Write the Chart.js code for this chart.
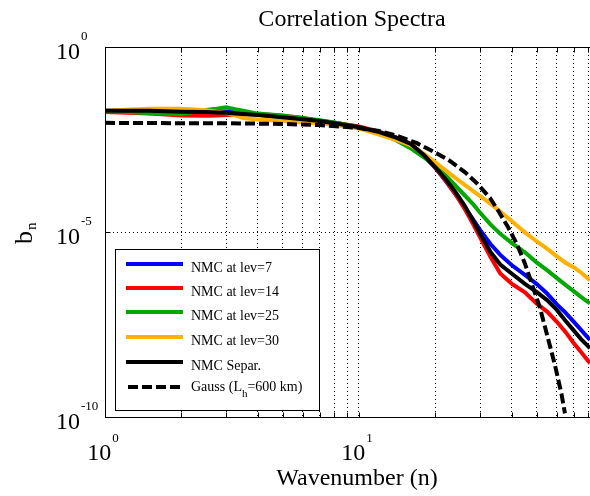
<!DOCTYPE html>
<html>
<head>
<meta charset="utf-8">
<script src="https://cdn.jsdelivr.net/npm/chart.js@4"></script>
<style>
  html, body { margin: 0; padding: 0; background: #fff; }
  #wrap { width: 590px; height: 496px; }
</style>
</head>
<body>
<div id="wrap"><canvas id="spectra" width="590" height="496"></canvas></div>
<script>
// wavenumbers where the NMC curves were read
var nmcN = [1, 1.5, 2, 2.5, 2.75, 3, 3.25, 3.5, 4, 5, 6, 7, 8, 10, 12, 14, 16, 18, 20, 22, 24, 26, 28, 30, 33, 36, 40, 45, 50, 55, 60, 65, 70, 75, 81.2];

// values as log10(b_n)
var lev7  = [-1.72, -1.72, -1.74, -1.74, -1.74, -1.74, -1.76, -1.78, -1.83, -1.89, -1.94, -1.99, -2.05, -2.16, -2.30, -2.45, -2.64, -2.94, -3.27, -3.63, -3.98, -4.32, -4.64, -4.95, -5.33, -5.62, -5.90, -6.16, -6.40, -6.66, -6.95, -7.18, -7.42, -7.65, -7.92];
var lev14 = [-1.76, -1.80, -1.85, -1.86, -1.85, -1.84, -1.83, -1.82, -1.81, -1.86, -1.92, -2.00, -2.05, -2.15, -2.29, -2.44, -2.62, -2.92, -3.26, -3.62, -3.98, -4.36, -4.76, -5.15, -5.68, -6.12, -6.40, -6.63, -6.93, -7.15, -7.42, -7.70, -8.00, -8.25, -8.55];
var lev25 = [-1.72, -1.79, -1.82, -1.70, -1.67, -1.63, -1.68, -1.72, -1.80, -1.85, -1.92, -1.98, -2.04, -2.17, -2.33, -2.52, -2.74, -2.98, -3.22, -3.48, -3.75, -4.00, -4.23, -4.48, -4.80, -5.05, -5.30, -5.55, -5.82, -6.03, -6.24, -6.43, -6.60, -6.76, -6.93];
var lev30 = [-1.72, -1.67, -1.67, -1.71, -1.75, -1.78, -1.85, -1.92, -1.96, -2.00, -2.04, -2.07, -2.10, -2.20, -2.37, -2.51, -2.66, -2.88, -3.12, -3.34, -3.54, -3.72, -3.88, -4.03, -4.24, -4.45, -4.71, -5.01, -5.25, -5.45, -5.65, -5.83, -5.95, -6.10, -6.30];
var separ = [-1.72, -1.72, -1.75, -1.76, -1.77, -1.78, -1.80, -1.81, -1.84, -1.90, -1.95, -2.00, -2.06, -2.17, -2.30, -2.45, -2.62, -2.92, -3.25, -3.58, -3.92, -4.28, -4.66, -5.05, -5.55, -5.88, -6.13, -6.40, -6.62, -6.84, -7.10, -7.40, -7.66, -7.90, -8.14];

// gaussian reference curve
var gaussN   = [1, 2, 3, 5, 7, 10, 12, 14, 16.9, 20.2, 22.8, 26.1, 29.1, 32.8, 35.3, 38.7, 41.8, 45, 47.1, 51.6, 55.6, 59.1, 62.8, 64.7];
var gaussExp = [-2.05, -2.06, -2.06, -2.08, -2.11, -2.19, -2.27, -2.39, -2.60, -2.87, -3.08, -3.38, -3.68, -4.08, -4.42, -4.88, -5.32, -5.85, -6.25, -7.05, -7.90, -8.60, -9.40, -9.90];

// grid / tick positions
var xGrid = [1, 2, 3, 4, 5, 6, 7, 8, 9, 10, 20, 30, 40, 50, 60, 70, 80];
var xLabels = [1, 10];
var yGrid = [1e-10, 1e-5, 1];
var yLabels = [1, 1e-5, 1e-10];

var serif = '"Liberation Serif", "Times New Roman", serif';

function toPoints(ns, exps) {
    return ns.map(function (n, i) {
        return { x: n, y: Math.pow(10, exps[i]) };
    });
}

function series(label, ns, exps, color, order, dash) {
    return {
        label: label,
        data: toPoints(ns, exps),
        borderColor: color,
        backgroundColor: color,
        borderWidth: 4,
        borderDash: dash || [],
        pointRadius: 0,
        tension: 0,
        fill: false,
        order: order
    };
}

// draws "10" with a raised exponent, starting at x
function drawPower(ctx, exp, x, y, dy) {
    ctx.font = '24px ' + serif;
    ctx.fillText('10', x, y);
    var w = ctx.measureText('10').width;
    ctx.font = '13px ' + serif;
    ctx.fillText(exp, x + w + 1, y - dy);
}

function powerWidth(ctx, exp) {
    ctx.font = '24px ' + serif;
    var w = ctx.measureText('10').width;
    ctx.font = '13px ' + serif;
    return w + 1 + ctx.measureText(exp).width;
}

var decorations = {
    id: 'decorations',
    afterDatasetsDraw: function (chart) {
        var ctx = chart.ctx;
        var a = chart.chartArea;
        var xs = chart.scales.x, ys = chart.scales.y;
        var L = Math.round(a.left) + 0.5, T = Math.round(a.top) + 0.5, B = Math.round(a.bottom) + 0.5;

        ctx.save();
        ctx.setLineDash([]);
        ctx.strokeStyle = '#000';
        ctx.lineWidth = 1;

        // axes box (right side falls outside the picture)
        ctx.beginPath();
        ctx.moveTo(a.right + 10, T);
        ctx.lineTo(L, T);
        ctx.lineTo(L, B);
        ctx.lineTo(a.right + 10, B);
        ctx.stroke();

        // tick marks pointing inwards
        ctx.beginPath();
        xGrid.forEach(function (v) {
            var px = Math.round(xs.getPixelForValue(v)) + 0.5;
            ctx.moveTo(px, B); ctx.lineTo(px, B - 5);
            ctx.moveTo(px, T); ctx.lineTo(px, T + 5);
        });
        var py = Math.round(ys.getPixelForValue(1e-5)) + 0.5;
        ctx.moveTo(L, py); ctx.lineTo(L + 5, py);
        ctx.stroke();

        ctx.fillStyle = '#000';
        ctx.textBaseline = 'alphabetic';
        ctx.textAlign = 'left';

        // x tick labels
        xLabels.forEach(function (v) {
            var exp = String(Math.round(Math.log10(v)));
            var px = xs.getPixelForValue(v);
            var w = powerWidth(ctx, exp);
            drawPower(ctx, exp, px - 2 - w / 2, 460, 18);
        });

        // y tick labels
        yLabels.forEach(function (v) {
            var exp = String(Math.round(Math.log10(v)));
            var py = ys.getPixelForValue(v);
            ctx.font = '24px ' + serif;
            var w = ctx.measureText('10').width;
            drawPower(ctx, exp, 80 - w, py + 12, 19);
        });

        // title and axis labels
        ctx.textAlign = 'center';
        ctx.font = '24px ' + serif;
        ctx.fillText('Correlation Spectra', 352, 26);
        ctx.fillText('Wavenumber (n)', 357, 485);

        ctx.save();
        ctx.translate(32, 244);
        ctx.rotate(-Math.PI / 2);
        ctx.textAlign = 'left';
        ctx.font = '26px ' + serif;
        ctx.fillText('b', 0, 0);
        var bw = ctx.measureText('b').width;
        ctx.font = '15px ' + serif;
        ctx.fillText('n', bw + 1, 4);
        ctx.restore();

        // legend
        var box = { x: 115.5, y: 249.5, w: 204, h: 161 };
        ctx.fillStyle = '#fff';
        ctx.fillRect(box.x, box.y, box.w, box.h);
        ctx.strokeStyle = '#000';
        ctx.lineWidth = 1;
        ctx.strokeRect(box.x, box.y, box.w, box.h);

        var rows = [264, 288, 312, 337, 362, 387];
        var sets = chart.data.datasets;
        ctx.textAlign = 'left';
        sets.forEach(function (ds, i) {
            var y = rows[i];
            ctx.beginPath();
            ctx.strokeStyle = ds.borderColor;
            ctx.lineWidth = 4;
            if (ds.borderDash.length) {
                ctx.setLineDash([10, 4]);
                ctx.moveTo(128, y); ctx.lineTo(183, y);
            } else {
                ctx.setLineDash([]);
                ctx.moveTo(126, y); ctx.lineTo(183, y);
            }
            ctx.stroke();
            ctx.setLineDash([]);

            ctx.fillStyle = '#000';
            var base = ds.borderDash.length ? y + 4 : y + 8;
            var parts = ds.label.split('_');
            ctx.font = '14px ' + serif;
            if (parts.length === 1) {
                ctx.fillText(ds.label, 191, base);
            } else {
                ctx.fillText(parts[0], 191, base);
                var x = 191 + ctx.measureText(parts[0]).width;
                ctx.font = '11px ' + serif;
                ctx.fillText(parts[1].charAt(0), x, base + 6);
                x += ctx.measureText(parts[1].charAt(0)).width;
                ctx.font = '14px ' + serif;
                ctx.fillText(parts[1].slice(1), x, base);
            }
        });
        ctx.restore();
    }
};

var canvas = document.getElementById('spectra');

var chart = new Chart(canvas, {
    type: 'line',
    data: {
        datasets: [
            series('NMC at lev=7', nmcN, lev7, '#0000ff', 5),
            series('NMC at lev=14', nmcN, lev14, '#ff0000', 4),
            series('NMC at lev=25', nmcN, lev25, '#00a800', 3),
            series('NMC at lev=30', nmcN, lev30, '#ffb000', 2),
            series('NMC Separ.', nmcN, separ, '#000000', 1),
            series('Gauss (L_h=600 km)', gaussN, gaussExp, '#000000', 0, [10, 4])
        ]
    },
    options: {
        responsive: false,
        animation: false,
        layout: {
            padding: { left: 105, right: 0, top: 47, bottom: 79 }
        },
        plugins: {
            legend: { display: false },
            title: { display: false },
            tooltip: { enabled: false }
        },
        scales: {
            x: {
                type: 'logarithmic',
                min: 1,
                max: 81.2,
                ticks: { display: false },
                grid: { color: '#000', lineWidth: 1, drawTicks: false },
                border: { display: false, dash: [1, 3] },
                afterBuildTicks: function (scale) {
                    scale.ticks = xGrid.map(function (v) { return { value: v }; });
                }
            },
            y: {
                type: 'logarithmic',
                min: 1e-10,
                max: 1,
                ticks: { display: false },
                grid: { color: '#000', lineWidth: 1, drawTicks: false },
                border: { display: false, dash: [1, 3] },
                afterBuildTicks: function (scale) {
                    scale.ticks = yGrid.map(function (v) { return { value: v }; });
                }
            }
        }
    },
    plugins: [decorations]
});
</script>
</body>
</html>
